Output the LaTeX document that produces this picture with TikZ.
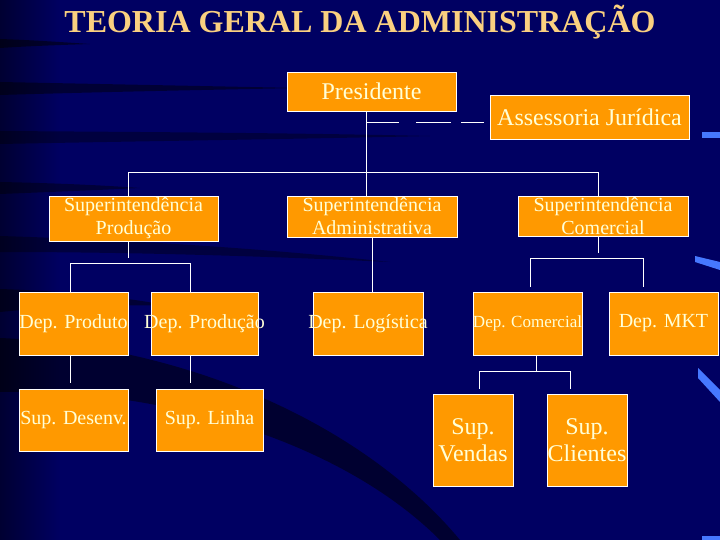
\documentclass[tikz,border=0pt]{standalone}
\usepackage{fontspec}
\setmainfont{Liberation Serif}
\usepackage{xcolor}
\usepackage{tikz}
\usetikzlibrary{positioning, calc}

\definecolor{fundo}{RGB}{0,0,98}
\definecolor{fundoesc}{RGB}{0,0,50}
\definecolor{laranja}{RGB}{255,153,0}
\definecolor{textocaixa}{RGB}{255,255,215}
\definecolor{corTitulo}{RGB}{250,208,128}
\definecolor{brilho}{RGB}{70,120,255}

\begin{document}
\begin{tikzpicture}[x=1pt, y=-1pt,
        caixa/.style={draw=white, fill=laranja, text=textocaixa, line width=0.8pt, inner sep=0pt, align=center},
        liga/.style={draw=white, line width=0.8pt}]
        \useasboundingbox (0,0) rectangle (720,540);

        % fundo
        \fill[fundo] (0,0) rectangle (720,540);
        \shade[left color=fundoesc, right color=fundo] (0,0) rectangle (60,540);
        \fill[black, opacity=0.5] (0,39) .. controls (30,40) and (60,42) .. (90,44) .. controls (60,45) and (30,46) .. (0,48) -- cycle;
        \fill[black, opacity=0.45] (0,82) .. controls (100,84) and (200,86) .. (300,88) .. controls (200,90) and (100,92) .. (0,95) -- cycle;
        \fill[black, opacity=0.35] (0,131) .. controls (150,132) and (300,133) .. (430,136) .. controls (300,139) and (150,141) .. (0,144) -- cycle;
        \fill[black, opacity=0.4] (0,182) .. controls (50,183) and (100,185) .. (140,188) .. controls (100,190) and (50,192) .. (0,194) -- cycle;
        \fill[black, opacity=0.35] (0,236) .. controls (130,240) and (260,248) .. (390,262) .. controls (260,256) and (130,252) .. (0,252) -- cycle;
        \fill[black, opacity=0.45] (0,289) .. controls (60,291) and (120,296) .. (170,306) .. controls (120,304) and (60,306) .. (0,312) -- cycle;
        \fill[black, opacity=0.5] (0,338) .. controls (180,345) and (360,420) .. (460,540) -- (440,540) .. controls (340,440) and (160,388) .. (0,392) -- cycle;
        \fill[brilho] (702,132) rectangle (720,138);
        \fill[brilho] (695,256) -- (720,262) -- (720,270) -- (695,262) -- cycle;
        \fill[brilho] (698,368) -- (720,390) -- (720,402) -- (698,378) -- cycle;
        \fill[brilho] (702,536) rectangle (720,540);

        \node[font=\fontsize{32}{32}\selectfont\bfseries, text=corTitulo, anchor=base] (titulo) at (360,33) {TEORIA GERAL DA ADMINISTRAÇÃO};

        % nivel 1
        \node[caixa, minimum width=169pt, minimum height=39pt, font=\fontsize{24}{24}\selectfont] (pres) at (371.5,91.5) {Presidente};
        \node[caixa, minimum width=199pt, minimum height=44pt, font=\fontsize{24}{24}\selectfont] (assess) at (589.5,117) {Assessoria Jurídica};

        % nivel 2
        \node[caixa, minimum width=169pt, minimum height=45pt, font=\fontsize{20}{23}\selectfont] (supprod) at (133.5,218.5) {Superintendência\\Produção};
        \node[caixa, minimum width=170pt, minimum height=41pt, font=\fontsize{20}{23}\selectfont] (supadm) at (372,216.5) {Superintendência\\Administrativa};
        \node[caixa, minimum width=170pt, minimum height=40pt, font=\fontsize{20}{23}\selectfont] (supcom) at (603,216) {Superintendência\\Comercial};

        % nivel 3
        \node[caixa, minimum width=109pt, minimum height=63pt, font=\fontsize{20}{23}\selectfont] (dprod) at (73.5,323.5) {\makebox[0pt]{Dep. Produto}};
        \node[caixa, minimum width=107pt, minimum height=63pt, font=\fontsize{20}{23}\selectfont] (dprodu) at (204.5,323.5) {\makebox[0pt]{Dep. Produção}};
        \node[caixa, minimum width=110pt, minimum height=63pt, font=\fontsize{20}{23}\selectfont] (dlog) at (368,323.5) {\makebox[0pt]{Dep. Logística}};
        \node[caixa, minimum width=109pt, minimum height=63pt, font=\fontsize{17}{20}\selectfont] (dcom) at (527.5,323.5) {\makebox[0pt]{Dep. Comercial}};
        \node[caixa, minimum width=109pt, minimum height=63pt, font=\fontsize{20}{23}\selectfont] (dmkt) at (663.5,323.5) {Dep. MKT};

        % nivel 4
        \node[caixa, minimum width=109pt, minimum height=62pt, font=\fontsize{20}{23}\selectfont] (sdes) at (73.5,420) {\makebox[0pt]{Sup. Desenv.}};
        \node[caixa, minimum width=107pt, minimum height=62pt, font=\fontsize{20}{23}\selectfont] (slin) at (209.5,420) {Sup. Linha};
        \node[caixa, minimum width=80pt, minimum height=92pt, font=\fontsize{24}{27}\selectfont] (svend) at (473,440) {Sup.\\Vendas};
        \node[caixa, minimum width=80pt, minimum height=92pt, font=\fontsize{24}{27}\selectfont] (scli) at (587,440) {Sup.\\Clientes};

        % ligacoes
        \draw[liga] ([xshift=-5.5pt]pres.south) -- ([xshift=-6pt]supadm.north);
        \coordinate (jur) at ($([xshift=-5.5pt]pres.south)+(0,11)$);
        \draw[liga, dash pattern=on 33pt off 17pt on 35pt off 10pt on 23pt off 20pt] (jur) -- (jur -| assess.west);
        \draw[liga] ([xshift=-5.5pt]supprod.north) -- ++(0,-23) -| ([xshift=-5pt]supcom.north);

        \draw[liga] ([xshift=-5.5pt]supprod.south) -- ++(0,17);
        \draw[liga] ([xshift=-3.5pt]dprod.north) -- ++(0,-28) -| ([xshift=-14.5pt]dprodu.north);
        \draw[liga] ([xshift=-3.5pt]dprod.south) -- ++(0,28);
        \draw[liga] ([xshift=-14.5pt]dprodu.south) -- ++(0,28);

        \draw[liga] (supadm.south) -- (supadm.south |- dlog.north);

        \draw[liga] ([xshift=-5pt]supcom.south) -- ++(0,17);
        \draw[liga] ([shift={(2.5,-5)}]dcom.north) -- ++(0,-28) -| ([shift={(-20.5,-5)}]dmkt.north);
        \draw[liga] ([xshift=8.5pt]dcom.south) -- ++(0,17);
        \draw[liga] ([shift={(6,-5)}]svend.north) -- ++(0,-17) -| ([shift={(-17,-5)}]scli.north);
    \end{tikzpicture}
\end{document}
